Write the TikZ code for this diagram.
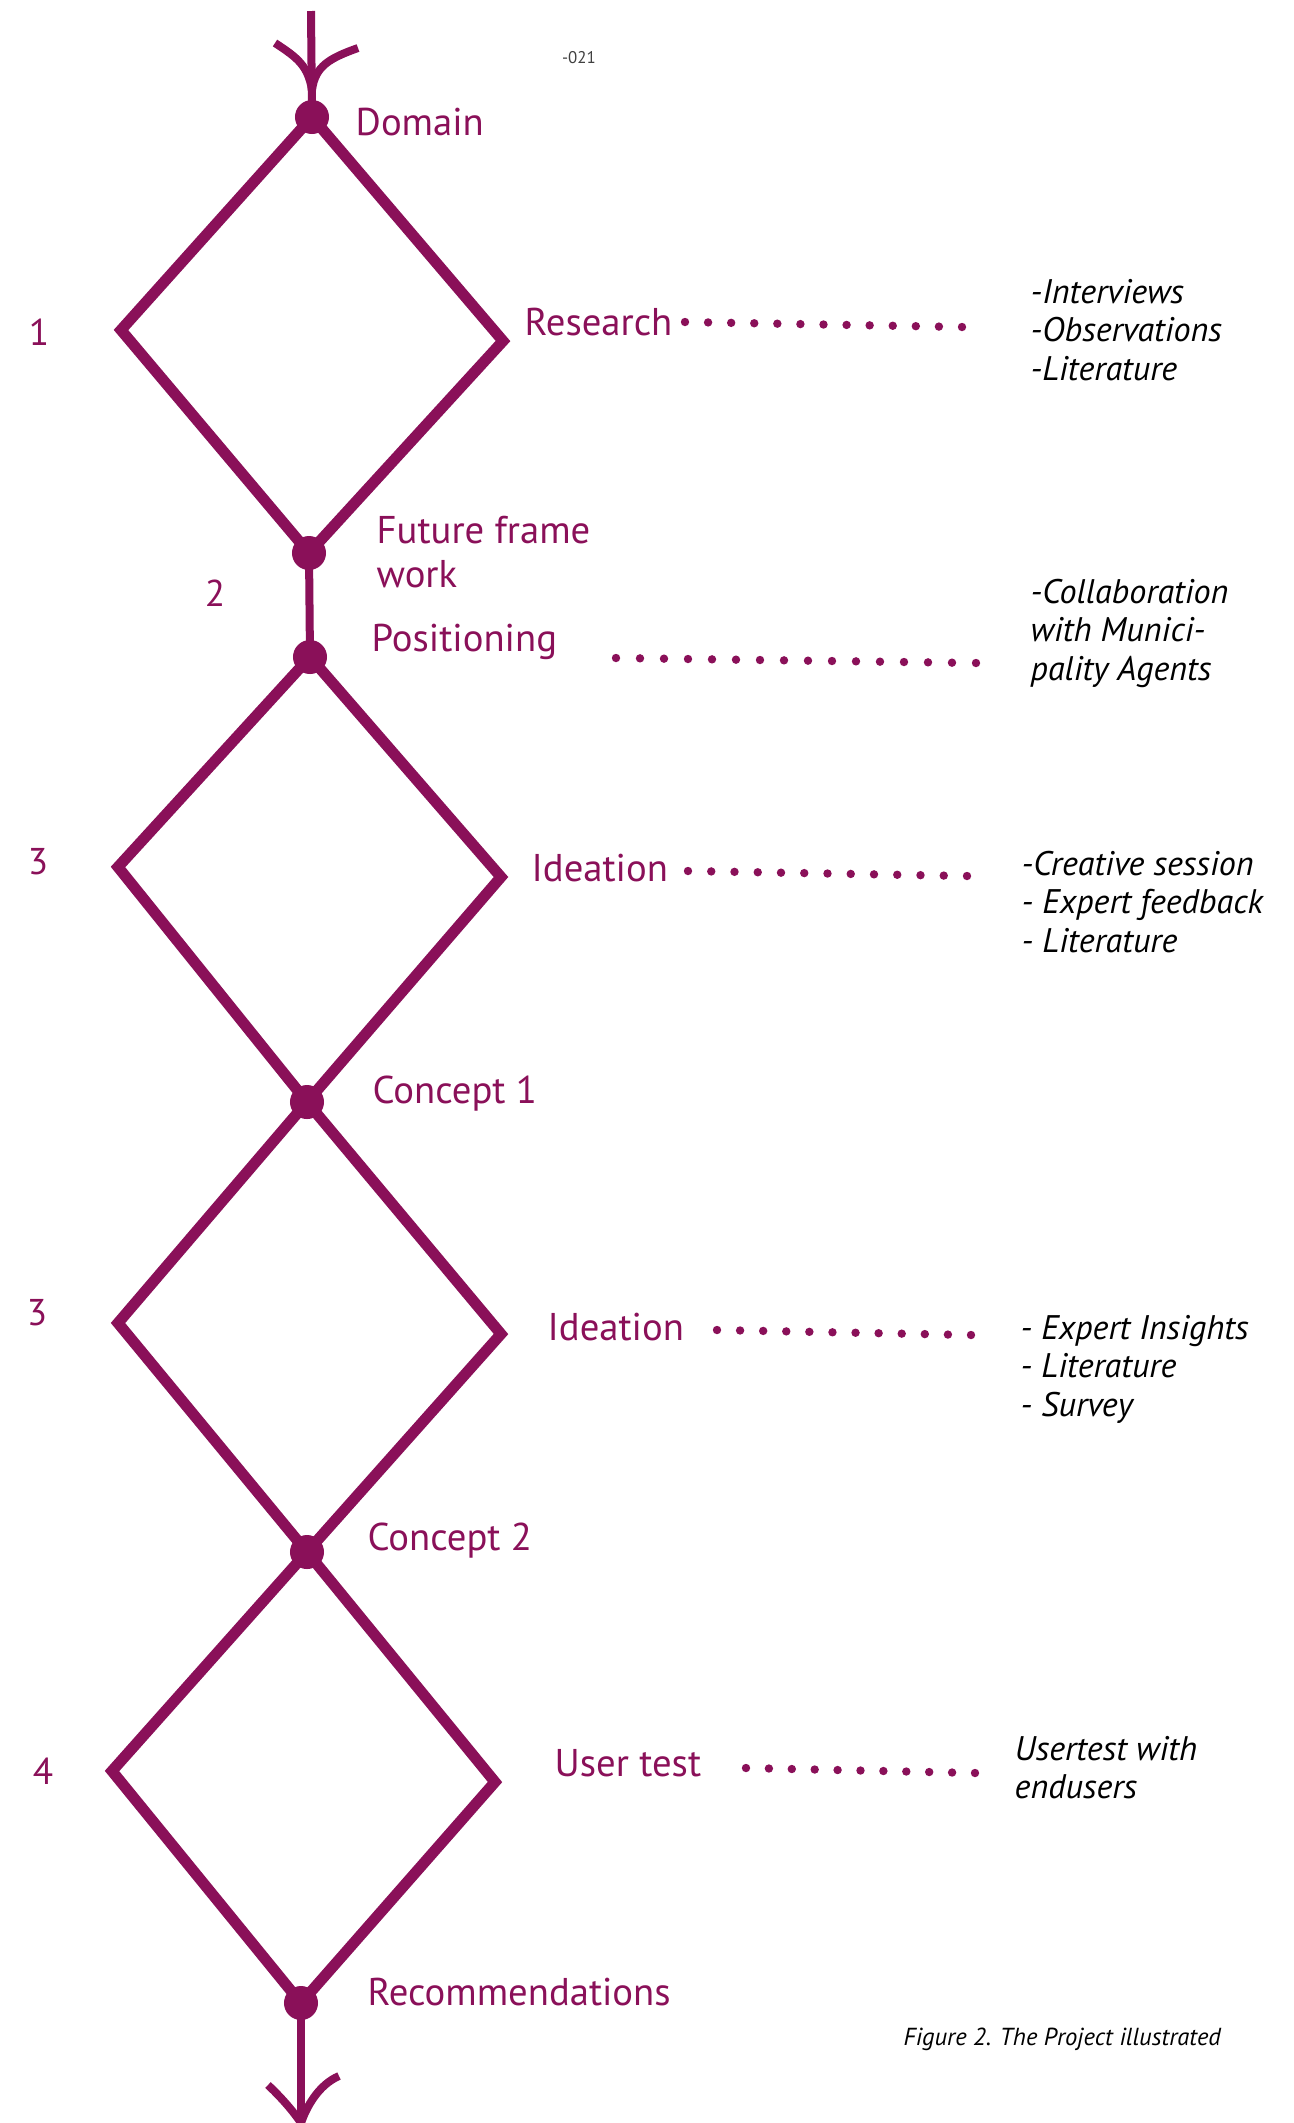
\documentclass[tikz,border=0pt]{standalone}
\usepackage{fontspec}
\setmainfont{PT Sans}
\usetikzlibrary{calc}
\definecolor{plum}{RGB}{138,16,89}

\begin{document}
\begin{tikzpicture}[x=0.01cm, y=-0.01cm,
    knot/.style={circle, fill=plum, inner sep=0pt, minimum size=0.34cm},
    rim/.style={draw=plum, line width=0.11cm, line join=miter},
    stem/.style={draw=plum, line width=0.08cm},
    barb/.style={draw=plum, line width=0.08cm},
    lbl/.style={anchor=base west, text=plum, inner sep=0pt,
                font=\fontsize{11}{13}\selectfont},
    num/.style={anchor=base, text=plum, inner sep=0pt,
                font=\fontsize{10.6}{12.5}\selectfont},
    note/.style={anchor=base west, inner sep=0pt,
                 font=\fontsize{9.7}{11}\selectfont\itshape}
]
  \useasboundingbox (0,0) rectangle (1293,2123);

  % Knots on the spine
  \node[knot] (d1) at (312,117) {};
  \node[knot] (d2) at (309,553) {};
  \node[knot] (d3) at (310,657) {};
  \node[knot] (d4) at (307,1102) {};
  \node[knot] (d5) at (307,1552) {};
  \node[knot] (d6) at (301,2003) {};

  % Diamond corners
  \coordinate (w1) at (121,330);  \coordinate (e1) at (503,341);
  \coordinate (w2) at (118,867);  \coordinate (e2) at (501,877);
  \coordinate (w3) at (118,1323); \coordinate (e3) at (501,1334);
  \coordinate (w4) at (112,1771); \coordinate (e4) at (495,1782);

  % Diamonds
  \draw[rim] (d1.center) -- (w1) -- (d2.center) -- (e1) -- cycle;
  \draw[rim] (d3.center) -- (w2) -- (d4.center) -- (e2) -- cycle;
  \draw[rim] (d4.center) -- (w3) -- (d5.center) -- (e3) -- cycle;
  \draw[rim] (d5.center) -- (w4) -- (d6.center) -- (e4) -- cycle;
  \draw[stem] (d2.center) -- (d3.center);

  % Way in
  \coordinate (intop) at (311,11);
  \coordinate (intip) at (312,90);
  \coordinate (inL) at (275,43);
  \coordinate (inR) at (358,48);
  \draw[stem] (intop) -- (d1.center);
  \draw[barb] (inL) .. controls (298,58) and (308,66) .. (intip);
  \draw[barb] (inR) .. controls (330,58) and (315,66) .. (intip);

  % Way out
  \coordinate (outbot) at (301,2123);
  \coordinate (outL) at (268,2085);
  \coordinate (outR) at (339,2076);
  \draw[stem] (d6.center) -- (outbot);
  \draw[barb] (outL) .. controls (284,2100) and (296,2115) .. (outbot);
  \draw[barb] (outR) .. controls (318,2085) and (306,2108) .. (outbot);

  % Page mark
  \node[anchor=base, inner sep=0pt, text=black!75,
        font=\fontsize{4.8}{6}\selectfont] (pmark) at (579,63) {-021};

  % Phase numbers
  \node[num] (n1) at (39,345) {1};
  \node[num] (n2) at (215,606) {2};
  \node[num] (n3) at (38,874) {3};
  \node[num] (n4) at (37,1325) {3};
  \node[num] (n5) at (43,1784) {4};

  % Stage labels
  \node[lbl] (domain) at (355,135) {Domain};
  \node[lbl] (research) at (524,335) {Research};
  \node[lbl] (future) at (376,543) {Future frame};
  \node[lbl] (futwork) at (376,587) {work};
  \node[lbl] (position) at (371,651) {Positioning};
  \node[lbl] (idea1) at (531,881) {Ideation};
  \node[lbl] (concept1) at (372,1103) {Concept 1};
  \node[lbl] (idea2) at (547,1340) {Ideation};
  \node[lbl] (concept2) at (367,1550) {Concept 2};
  \node[lbl] (usertest) at (554,1776) {User test};
  \node[lbl] (recom) at (367,2005) {Recommendations};

  % Methods
  \node[note] (mresearch) at (1030,303)
       {\vtop{\hbox{-Interviews}\hbox{-Observations}\hbox{-Literature}}};
  \node[note] (mposition) at (1030,603)
       {\vtop{\hbox{-Collaboration}\hbox{with Munici-}\hbox{pality Agents}}};
  \node[note] (midea1) at (1021,875)
       {\vtop{\hbox{-Creative session}\hbox{- Expert feedback}\hbox{- Literature}}};
  \node[note] (midea2) at (1020,1339)
       {\vtop{\hbox{- Expert Insights}\hbox{- Literature}\hbox{- Survey}}};
  \node[note] (musertest) at (1014,1760)
       {\vtop{\hbox{Usertest with}\hbox{endusers}}};

  % Dotted leaders
  \coordinate (rs) at (685,322);  \coordinate (re) at (962,327);
  \coordinate (ps) at (616,658);  \coordinate (pe) at (976,663);
  \coordinate (is) at (688,871);  \coordinate (ie) at (967,876);
  \coordinate (js) at (717,1330); \coordinate (je) at (971,1335);
  \coordinate (us) at (746,1768); \coordinate (ue) at (975,1773);
  \foreach \s/\e/\n in {rs/re/12, ps/pe/15, is/ie/12, js/je/11, us/ue/10}
    \foreach \i in {0,...,\n}
      \fill[plum] ($(\s)!\i/\n!(\e)$) circle (0.042cm);

  % Caption
  \node[anchor=base west, inner sep=0pt,
        font=\fontsize{7}{8.5}\selectfont\itshape] (caption) at (903,2045)
       {Figure 2. The Project illustrated};
\end{tikzpicture}
\end{document}
